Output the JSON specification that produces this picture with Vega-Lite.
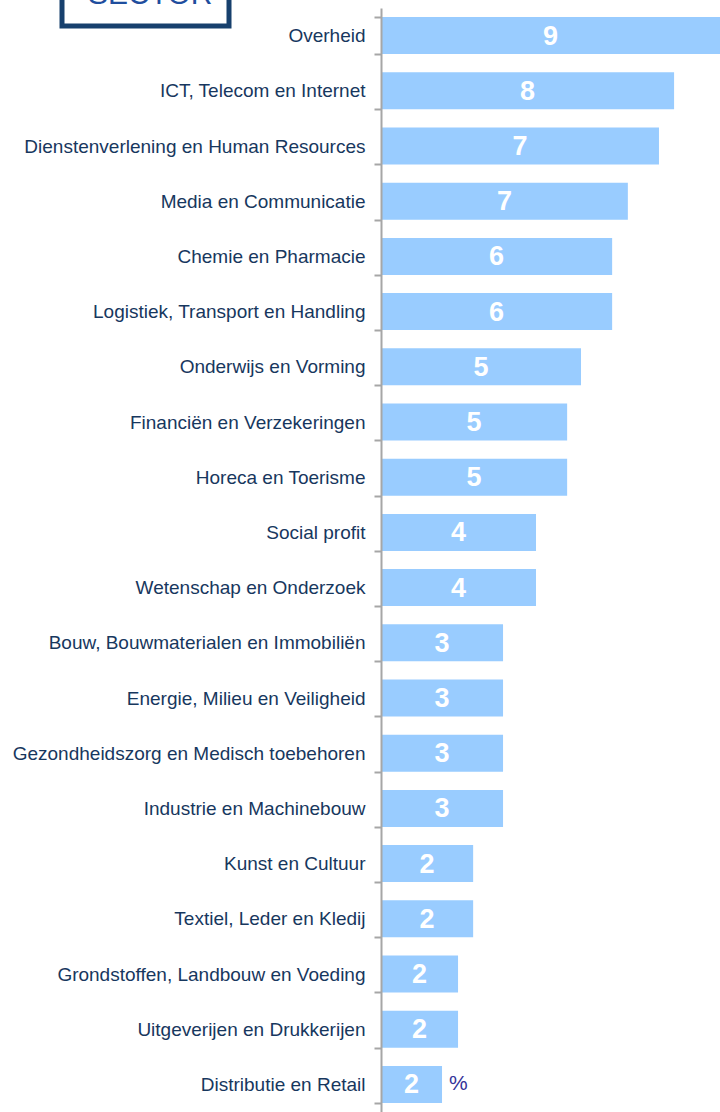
{
  "$schema": "https://vega.github.io/schema/vega-lite/v6.json",
  "width": 339,
  "height": 1104,
  "autosize": {"type": "none"},
  "padding": {"left": 381, "top": 8, "right": 0, "bottom": 0},
  "background": "white",
  "config": {
    "view": {"stroke": null},
    "font": "Liberation Sans"
  },
  "data": {
    "values": [
      {"sector": "Overheid", "bar": 11.0, "pct": 9},
      {"sector": "ICT, Telecom en Internet", "bar": 9.51, "pct": 8},
      {"sector": "Dienstenverlening en Human Resources", "bar": 9.02, "pct": 7},
      {"sector": "Media en Communicatie", "bar": 8.01, "pct": 7},
      {"sector": "Chemie en Pharmacie", "bar": 7.5, "pct": 6},
      {"sector": "Logistiek, Transport en Handling", "bar": 7.5, "pct": 6},
      {"sector": "Onderwijs en Vorming", "bar": 6.49, "pct": 5},
      {"sector": "Financiën en Verzekeringen", "bar": 6.04, "pct": 5},
      {"sector": "Horeca en Toerisme", "bar": 6.04, "pct": 5},
      {"sector": "Social profit", "bar": 5.03, "pct": 4},
      {"sector": "Wetenschap en Onderzoek", "bar": 5.03, "pct": 4},
      {"sector": "Bouw, Bouwmaterialen en Immobiliën", "bar": 3.96, "pct": 3},
      {"sector": "Energie, Milieu en Veiligheid", "bar": 3.96, "pct": 3},
      {"sector": "Gezondheidszorg en Medisch toebehoren", "bar": 3.96, "pct": 3},
      {"sector": "Industrie en Machinebouw", "bar": 3.96, "pct": 3},
      {"sector": "Kunst en Cultuur", "bar": 2.99, "pct": 2},
      {"sector": "Textiel, Leder en Kledij", "bar": 2.99, "pct": 2},
      {"sector": "Grondstoffen, Landbouw en Voeding", "bar": 2.5, "pct": 2},
      {"sector": "Uitgeverijen en Drukkerijen", "bar": 2.5, "pct": 2},
      {"sector": "Distributie en Retail", "bar": 1.98, "pct": 2}
    ]
  },
  "encoding": {
    "y": {
      "field": "sector",
      "type": "nominal",
      "sort": null,
      "scale": {"paddingInner": 0.33, "paddingOuter": 0.165},
      "axis": {
        "title": null,
        "labelFontSize": 19,
        "labelColor": "#17375E",
        "labelFont": "Liberation Sans",
        "labelPadding": 9,
        "labelLimit": 400,
        "tickBand": "extent",
        "tickSize": 7,
        "tickColor": "#A6A6A6",
        "tickWidth": 2,
        "domainColor": "#A6A6A6",
        "domainWidth": 2,
        "zindex": 1
      }
    }
  },
  "layer": [
    {
      "mark": {"type": "bar", "clip": true},
      "encoding": {
        "x": {"field": "bar", "type": "quantitative", "scale": {"domain": [0, 11]}, "axis": null},
        "color": {
          "datum": "SECTOR",
          "scale": {"range": ["#99CCFF"]},
          "legend": {
            "title": null,
            "orient": "none",
            "legendX": -319,
            "legendY": -59,
            "padding": 16,
            "strokeColor": "#17406D",
            "fillColor": "white",
            "symbolSize": 1,
            "symbolOpacity": 0,
            "symbolStrokeWidth": 0,
            "labelOffset": -20,
            "labelFontSize": 30,
            "labelColor": "#1F4E9E",
            "labelFont": "Liberation Sans",
            "labelBaseline": "top",
            "encode": {"legend": {"update": {"strokeWidth": {"value": 5}}}}
          }
        }
      }
    },
    {
      "transform": [{"calculate": "datum.bar / 2", "as": "mid"}],
      "mark": {"type": "text", "color": "white", "fontWeight": "bold", "fontSize": 27, "font": "Liberation Sans", "baseline": "middle", "dy": 1},
      "encoding": {
        "x": {"field": "mid", "type": "quantitative"},
        "text": {"field": "pct", "type": "quantitative"}
      }
    },
    {
      "transform": [{"filter": "datum.sector === 'Distributie en Retail'"}],
      "mark": {"type": "text", "align": "left", "dx": 7, "fontSize": 21, "color": "#333399", "font": "Liberation Sans", "baseline": "middle", "dy": 0},
      "encoding": {
        "x": {"field": "bar", "type": "quantitative"},
        "text": {"value": "%"}
      }
    }
  ]
}
